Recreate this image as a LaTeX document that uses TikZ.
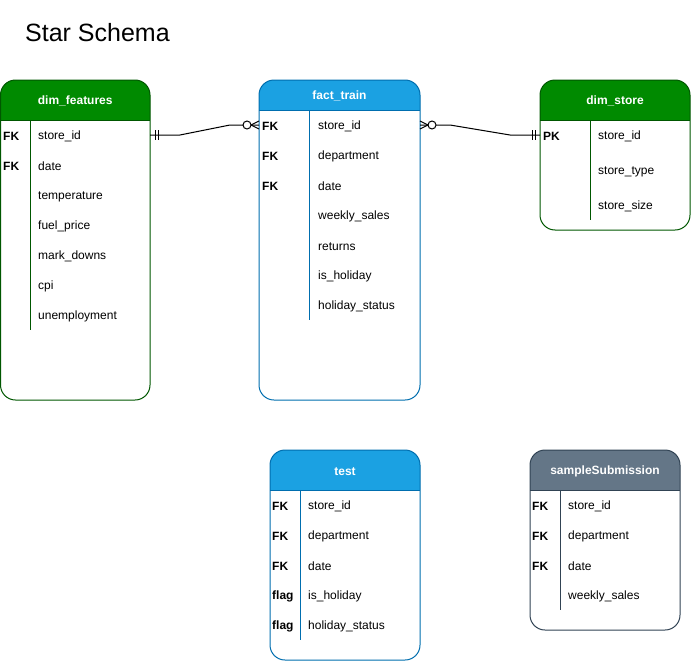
\documentclass[tikz,border=0pt]{standalone}
\usepackage{fontspec}
\setmainfont{Liberation Sans}
\usetikzlibrary{calc}
\definecolor{gfill}{HTML}{008A00}
\definecolor{gline}{HTML}{005700}
\definecolor{bfill}{HTML}{1BA1E2}
\definecolor{bline}{HTML}{006EAF}
\definecolor{sfill}{HTML}{647687}
\definecolor{sline}{HTML}{314354}
\tikzset{
  frame/.style={draw, line width=1pt, rounded corners=15pt, inner sep=0pt, outer sep=0pt, anchor=north west},
  htitle/.style={text=white, inner sep=0pt, yshift=-1.2pt, font=\fontsize{12}{14}\selectfont\bfseries},
  fld/.style={anchor=west, inner sep=0pt, yshift=-1.5pt, font=\fontsize{12}{14}\selectfont},
  keyf/.style={anchor=west, inner sep=0pt, yshift=-1.5pt, font=\fontsize{12}{14}\selectfont\bfseries},
  conn/.style={line width=1pt},
  titletext/.style={anchor=west, inner sep=0pt, font=\fontsize{25}{29}\selectfont}
}
% name, x1, y1, x2, y2, header bottom, fill, stroke, title
\newcommand\ertable[9]{%
  \fill[white, rounded corners=15pt] (#2,#3) rectangle (#4,#5);
  \fill[#7] (#2,#6) {[rounded corners=15pt] -- (#2,#3) -- (#4,#3)} -- (#4,#6) -- cycle;
  \draw[#8, line width=1pt] (#2,#6) -- (#4,#6);
  \node[frame, draw=#8, minimum width={(#4-#2)*1pt}, minimum height={(#5-#3)*1pt}] (#1) at (#2,#3) {};
  \node[htitle] (#1h) at ($(#2,#3)!0.5!(#4,#6)$) {#9};
}
\begin{document}
\begin{tikzpicture}[x=1pt,y=-1pt]
\useasboundingbox (0,0) rectangle (692,661);
\node[titletext] (title) at (25,33) {Star Schema};

% dim_features
\ertable{df}{0.5}{80}{150}{400}{120}{gfill}{gline}{dim\_features}
\draw[gline, line width=1pt] (30,120) -- (30,330);
\node[keyf] (dfk1) at (3,135) {FK};
\node[keyf] (dfk2) at (3,165) {FK};
\node[fld] (dff1) at (38,135) {store\_id};
\node[fld] (dff2) at (38,165) {date};
\node[fld] (dff3) at (38,195) {temperature};
\node[fld] (dff4) at (38,225) {fuel\_price};
\node[fld] (dff5) at (38,255) {mark\_downs};
\node[fld] (dff6) at (38,285) {cpi};
\node[fld] (dff7) at (38,315) {unemployment};

% fact_train
\ertable{ft}{259}{80}{420}{400}{110}{bfill}{bline}{fact\_train}
\draw[bline, line width=1pt] (309,110) -- (309,320);
\node[keyf] (ftk1) at (262,125) {FK};
\node[keyf] (ftk2) at (262,155) {FK};
\node[keyf] (ftk3) at (262,185) {FK};
\node[fld] (ftf1) at (318,125) {store\_id};
\node[fld] (ftf2) at (318,155) {department};
\node[fld] (ftf3) at (318,185) {date};
\node[fld] (ftf4) at (318,215) {weekly\_sales};
\node[fld] (ftf5) at (318,245) {returns};
\node[fld] (ftf6) at (318,275) {is\_holiday};
\node[fld] (ftf7) at (318,305) {holiday\_status};

% dim_store
\ertable{ds}{540}{80}{690}{230}{120}{gfill}{gline}{dim\_store}
\draw[gline, line width=1pt] (590,120) -- (590,220);
\node[keyf] (dsk1) at (543,135) {PK};
\node[fld] (dsf1) at (598,135) {store\_id};
\node[fld] (dsf2) at (598,170) {store\_type};
\node[fld] (dsf3) at (598,205) {store\_size};

% test
\ertable{te}{270}{450}{420}{660}{490}{bfill}{bline}{test}
\draw[bline, line width=1pt] (300,490) -- (300,640);
\node[keyf] (tek1) at (272,505) {FK};
\node[keyf] (tek2) at (272,535) {FK};
\node[keyf] (tek3) at (272,565) {FK};
\node[keyf] (tek4) at (272,595) {flag};
\node[keyf] (tek5) at (272,625) {flag};
\node[fld] (tef1) at (308,505) {store\_id};
\node[fld] (tef2) at (308,535) {department};
\node[fld] (tef3) at (308,565) {date};
\node[fld] (tef4) at (308,595) {is\_holiday};
\node[fld] (tef5) at (308,625) {holiday\_status};

% sampleSubmission
\ertable{ss}{530}{450}{680}{630}{490}{sfill}{sline}{sampleSubmission}
\draw[sline, line width=1pt] (560,490) -- (560,610);
\node[keyf] (ssk1) at (532,505) {FK};
\node[keyf] (ssk2) at (532,535) {FK};
\node[keyf] (ssk3) at (532,565) {FK};
\node[fld] (ssf1) at (568,505) {store\_id};
\node[fld] (ssf2) at (568,535) {department};
\node[fld] (ssf3) at (568,565) {date};
\node[fld] (ssf4) at (568,595) {weekly\_sales};

% connector dim_features -> fact_train
\coordinate (a1) at (150,135);
\coordinate (b1) at (259,125);
\draw[conn] (a1) -- ++(30,0) -- ($(b1)+(-29,0)$) -- (b1);
\draw[conn] ($(a1)+(5,-5)$) -- ($(a1)+(5,5)$);
\draw[conn] ($(a1)+(8,-5)$) -- ($(a1)+(8,5)$);
\draw[conn] ($(b1)+(-8,0)$) -- ($(b1)+(0,-4)$);
\draw[conn] ($(b1)+(-8,0)$) -- ($(b1)+(0,4)$);
\draw[conn, fill=white] ($(b1)+(-12,0)$) circle[radius=4];

% connector fact_train -> dim_store
\coordinate (a2) at (420,125);
\coordinate (b2) at (540,135);
\draw[conn] (a2) -- ++(30,0) -- ($(b2)+(-30,0)$) -- (b2);
\draw[conn] ($(a2)+(8,0)$) -- ($(a2)+(0,-4)$);
\draw[conn] ($(a2)+(8,0)$) -- ($(a2)+(0,4)$);
\draw[conn, fill=white] ($(a2)+(12,0)$) circle[radius=4];
\draw[conn] ($(b2)+(-5,-5)$) -- ($(b2)+(-5,5)$);
\draw[conn] ($(b2)+(-8,-5)$) -- ($(b2)+(-8,5)$);
\end{tikzpicture}
\end{document}
